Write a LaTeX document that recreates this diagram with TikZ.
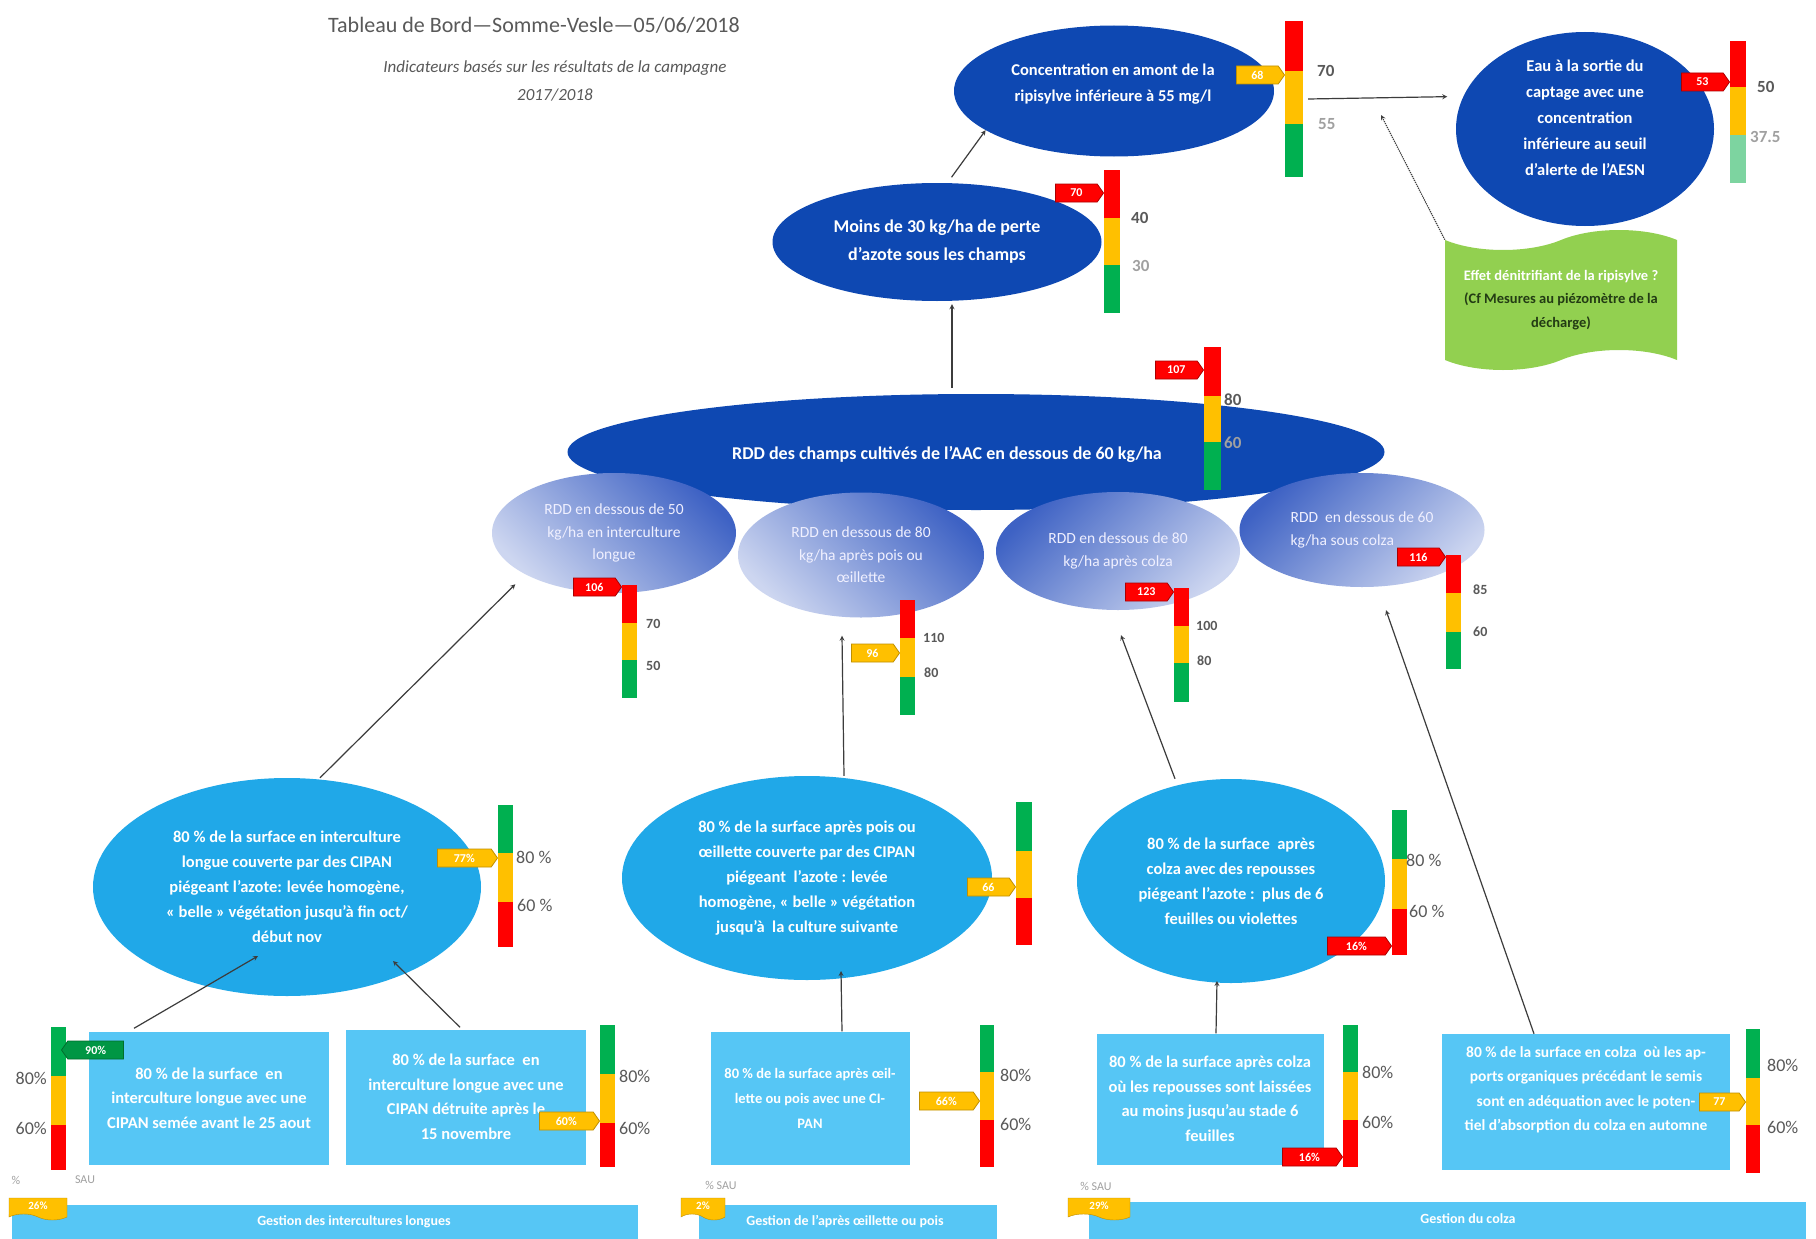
\documentclass[tikz,border=0pt]{standalone}
\usepackage{fontspec}
\setmainfont{Carlito}
\usetikzlibrary{shapes.geometric,shapes.symbols}

\definecolor{rouge}{RGB}{255,0,0}
\definecolor{rougefonce}{RGB}{170,0,0}
\definecolor{jaune}{RGB}{255,192,0}
\definecolor{jaunefonce}{RGB}{191,143,0}
\definecolor{vert}{RGB}{0,176,80}
\definecolor{vertfonce}{RGB}{0,110,45}
\definecolor{menthe}{RGB}{125,212,160}
\definecolor{bleufonce}{RGB}{14,72,178}
\definecolor{bleurdd}{RGB}{62,98,196}
\definecolor{lavande}{RGB}{205,214,240}
\definecolor{cyanfonce}{RGB}{32,168,232}
\definecolor{cyanclair}{RGB}{86,198,245}
\definecolor{vertruban}{RGB}{146,208,80}
\definecolor{textruban}{RGB}{35,60,20}
\definecolor{grisfl}{RGB}{60,60,60}
\definecolor{grist}{RGB}{89,89,89}
\definecolor{grisc}{RGB}{160,160,160}

% jauge : [largeur]{x}{haut}{seuil 1}{seuil 2}{bas}{couleur haut}{couleur bas}
\newcommand{\jauge}[8][15]{%
  \fill[#7] (#2,#3) rectangle (#2+#1,#4);
  \fill[jaune] (#2,#4) rectangle (#2+#1,#5);
  \fill[#8] (#2,#5) rectangle (#2+#1,#6);
}

\tikzset{
  objfonce/.style={ellipse, fill=bleufonce, inner sep=0pt, text=white, align=center,
    font=\bfseries\fontsize{16.5}{26}\selectfont},
  textefonce/.style={inner sep=0pt, text=white, align=center,
    font=\bfseries\fontsize{16.5}{26}\selectfont},
  objrdd/.style={ellipse, inner sep=0pt, text=white!94!blue, align=center,
    font=\fontsize{15.5}{22.5}\selectfont},
  objcipan/.style={ellipse, fill=cyanfonce, inner sep=0pt, text=white, align=center,
    font=\bfseries\fontsize{16.5}{25}\selectfont},
  action/.style={rectangle, fill=cyanclair, inner sep=0pt, text=white, align=center,
    font=\bfseries\fontsize{16.5}{24.5}\selectfont},
  gestion/.style={inner sep=0pt, text=white, font=\bfseries\fontsize{14}{16}\selectfont},
  ruban/.style={tape, tape bend top=in and out, tape bend bottom=in and out,
    tape bend height=20pt, fill=vertruban, inner sep=2pt, align=center, text=textruban,
    font=\bfseries\fontsize{14.5}{23.5}\selectfont},
  fleche/.style={->, >=stealth, draw=grisfl, line width=1.2pt},
  pointille/.style={->, >=stealth, draw=grisfl, line width=1.2pt, densely dotted},
  tagbase/.style={signal, signal to=east, signal pointer angle=110, minimum height=18,
    minimum width=48, inner xsep=4pt, inner ysep=1pt, text=white, line width=0.8pt,
    font=\bfseries\fontsize{12}{12}\selectfont},
  tagr/.style={tagbase, fill=rouge, draw=rougefonce},
  tagj/.style={tagbase, fill=jaune, draw=jaunefonce},
  tagv/.style={tagbase, signal to=west, fill=vert!85!black, draw=vertfonce},
  sau/.style={tape, tape bend top=none, tape bend bottom=out and in, tape bend height=6pt,
    fill=jaune, draw=jaunefonce, text=white, inner sep=1pt,
    font=\bfseries\fontsize{11}{11}\selectfont},
  seuilf/.style={anchor=west, inner sep=0pt, text=grist, font=\bfseries\fontsize{17}{17}\selectfont},
  seuilc/.style={anchor=west, inner sep=0pt, text=grisc, font=\bfseries\fontsize{17}{17}\selectfont},
  seuilp/.style={anchor=west, inner sep=0pt, text=grist, font=\bfseries\fontsize{14}{14}\selectfont},
  seuilb/.style={anchor=west, inner sep=0pt, text=grist, font=\fontsize{18}{18}\selectfont},
  petitgris/.style={inner sep=0pt, text=grisc, font=\fontsize{12}{12}\selectfont}
}

\begin{document}
\begin{tikzpicture}[x=1pt, y=-1pt]
\useasboundingbox (0,0) rectangle (1816,1239);
\fill[white] (0,0) rectangle (1816,1239);

% titre
\node[text=grist, font=\fontsize{22}{22}\selectfont] (titre) at (534,25) {Tableau de Bord—Somme-Vesle—05/06/2018};
\node[text=grist, align=center, font=\itshape\fontsize{17}{28}\selectfont] (soustitre) at (555,81)
  {Indicateurs basés sur les résultats de la campagne\\2017/2018};

% objectifs du haut
\node[objfonce, minimum width=320, minimum height=131] (conc) at (1114,91) {};
\node[textefonce] (conctexte) at (1113,84)
  {Concentration en amont de la\\ripisylve inférieure à 55 mg/l};
\node[objfonce, minimum width=258, minimum height=194] (eau) at (1585,129) {};
\node[textefonce] (eautexte) at (1585,118)
  {Eau à la sortie du\\captage avec une\\concentration\\inférieure au seuil\\d’alerte de l’AESN};
\node[objfonce, minimum width=329, minimum height=118, font=\bfseries\fontsize{18}{28}\selectfont] (moins) at (937,242)
  {Moins de 30 kg/ha de perte\\d’azote sous les champs};
\node[ruban, minimum width=232, minimum height=140] (denit) at (1561,300)
  {\textcolor{white}{Effet dénitrifiant de la ripisylve ?}\\(Cf Mesures au piézomètre de la\\décharge)};

% RDD
\node[objfonce, minimum width=817, minimum height=116] (rdd) at (976,452) {};
\node[text=white, inner sep=0pt, font=\bfseries\fontsize{18}{18}\selectfont] (rddtexte) at (947,454)
  {RDD des champs cultivés de l’AAC en dessous de 60 kg/ha};
\node[objrdd, minimum width=244, minimum height=120, left color=bleurdd, right color=lavande, shading angle=-45] (rddlong) at (614,533)
  {RDD en dessous de 50\\kg/ha en interculture\\longue};
\node[objrdd, minimum width=246, minimum height=125, left color=bleurdd, right color=lavande, shading angle=-45] (rddpois) at (861,555)
  {RDD en dessous de 80\\kg/ha après pois ou\\œillette};
\node[objrdd, minimum width=244, minimum height=118, left color=bleurdd, right color=lavande, shading angle=45] (rddapcolza) at (1118,551)
  {RDD en dessous de 80\\kg/ha après colza};
\node[objrdd, minimum width=245, minimum height=114, left color=bleurdd, right color=lavande, shading angle=45, align=left] (rddcolza) at (1362,530)
  {RDD\ \ en dessous de 60\\kg/ha sous colza};

% CIPAN et repousses
\node[objcipan, minimum width=388, minimum height=218] (cipanlong) at (287,887)
  {80 \% de la surface en interculture\\longue couverte par des CIPAN\\piégeant l’azote: levée homogène,\\« belle » végétation jusqu’à fin oct/\\début nov};
\node[objcipan, minimum width=370, minimum height=204] (cipanpois) at (807,878)
  {80 \% de la surface après pois ou\\œillette couverte par des CIPAN\\piégeant\ \ l’azote : levée\\homogène, « belle » végétation\\jusqu’à\ \ la culture suivante};
\node[objcipan, minimum width=308, minimum height=204] (repousses) at (1231,881)
  {80 \% de la surface\ \ après\\colza avec des repousses\\piégeant l’azote :\ \ plus de 6\\feuilles ou violettes};

% actions
\node[action, minimum width=240, minimum height=133] (semis) at (209,1098)
  {80 \% de la surface\ \ en\\interculture longue avec une\\CIPAN semée avant le 25 aout};
\node[action, minimum width=240, minimum height=135] (destruc) at (466,1097)
  {80 \% de la surface\ \ en\\interculture longue avec une\\CIPAN détruite après le\\15 novembre};
\node[action, minimum width=199, minimum height=133, font=\bfseries\fontsize{14.5}{25}\selectfont] (pois) at (810,1098)
  {80 \% de la surface après œil-\\lette ou pois avec une CI-\\PAN};
\node[action, minimum width=227, minimum height=131] (colzalaisse) at (1210,1099)
  {80 \% de la surface après colza\\où les repousses sont laissées\\au moins jusqu’au stade 6\\feuilles};
\node[action, minimum width=288, minimum height=136] (apports) at (1586,1102) {};
\node[action, font=\bfseries\fontsize{15.5}{24.5}\selectfont] (apportstexte) at (1586,1090)
  {80 \% de la surface en colza\ \ où les ap-\\ports organiques précédant le semis\\sont en adéquation avec le poten-\\tiel d’absorption du colza en automne};

% bandeaux
\fill[cyanclair] (12,1205) rectangle (638,1245);
\fill[cyanclair] (699,1205) rectangle (997,1245);
\fill[cyanclair] (1089,1202) rectangle (1806,1245);
\node[gestion] (gestlong) at (354,1222) {Gestion des intercultures longues};
\node[gestion] (gestpois) at (845,1221) {Gestion de l’après œillette ou pois};
\node[gestion] (gestcolza) at (1468,1219) {Gestion du colza};
\node[petitgris] (pc1) at (16,1180) {\%};
\node[petitgris] (sau1) at (85,1180) {SAU};
\node[petitgris] (sau2) at (721,1185) {\% SAU};
\node[petitgris] (sau3) at (1096,1186) {\% SAU};
\node[sau, minimum width=58, minimum height=22] (part1) at (38,1206) {26\%};
\node[sau, minimum width=44, minimum height=22] (part2) at (703,1206) {2\%};
\node[sau, minimum width=62, minimum height=22] (part3) at (1099,1206) {29\%};

% connecteurs
\draw[fleche] ([xshift=-24pt,yshift=6pt]rdd.north) -- ([xshift=15pt,yshift=-3pt]moins.south);
\draw[fleche, shorten <=7pt] (moins.80) -- (conc.197);
\draw[fleche, shorten >=16pt] ([xshift=34pt,yshift=-8pt]conc.east) -- (eau.165);
\coordinate (visee) at (1381,115);
\draw[pointille] (denit.north west) -- (visee);
\draw[fleche, shorten >=14pt] ([xshift=33pt]cipanlong.north) -- (rddlong.205);
\draw[fleche] ([xshift=37pt]cipanpois.north) -- ([xshift=-19pt,yshift=-18pt]rddpois.south);
\draw[fleche] ([xshift=-56pt]repousses.north) -- ([xshift=3pt,yshift=-25pt]rddapcolza.south);
\draw[fleche] ([xshift=-52pt]apports.north) -- ([xshift=24pt,yshift=-23pt]rddcolza.south);
\draw[fleche] ([xshift=-75pt,yshift=3pt]semis.north) -- ([xshift=-29pt,yshift=-69pt]cipanlong.center);
\draw[fleche] ([xshift=-6pt,yshift=2pt]destruc.north) -- ([xshift=106pt,yshift=-74pt]cipanlong.center);
\draw[fleche] ([xshift=32pt]pois.north) -- ([xshift=34pt,yshift=-93pt]cipanpois.center);
\draw[fleche] ([xshift=6pt]colzalaisse.north) -- ([xshift=-14pt,yshift=-100pt]repousses.center);

% jauges
\jauge[18]{1285}{21}{71}{124}{177}{rouge}{vert}
\jauge[16]{1730}{41}{87}{135}{183}{rouge}{menthe}
\jauge[16]{1104}{170}{218}{265}{313}{rouge}{vert}
\jauge[17]{1204}{347}{396}{442}{490}{rouge}{vert}
\jauge{622}{585}{623}{660}{698}{rouge}{vert}
\jauge{900}{600}{638}{677}{715}{rouge}{vert}
\jauge{1174}{588}{626}{663}{702}{rouge}{vert}
\jauge{1446}{555}{593}{632}{669}{rouge}{vert}
\jauge{498}{805}{853}{902}{947}{vert}{rouge}
\jauge[16]{1016}{802}{851}{898}{945}{vert}{rouge}
\jauge{1392}{810}{859}{909}{955}{vert}{rouge}
\jauge{51}{1027}{1076}{1125}{1170}{vert}{rouge}
\jauge{600}{1025}{1074}{1123}{1167}{vert}{rouge}
\jauge[14]{980}{1025}{1072}{1120}{1167}{vert}{rouge}
\jauge{1343}{1025}{1072}{1120}{1167}{vert}{rouge}
\jauge[14]{1746}{1029}{1078}{1125}{1173}{vert}{rouge}

% seuils
\node[seuilf] (s70) at (1317,71) {70};
\node[seuilc] (s55) at (1318,124) {55};
\node[seuilf] (s50) at (1757,87) {50};
\node[seuilc] (s375) at (1750,137) {37.5};
\node[seuilf] (s40) at (1131,218) {40};
\node[seuilc] (s30) at (1132,266) {30};
\node[seuilf] (s80r) at (1224,400) {80};
\node[seuilc] (s60r) at (1224,443) {60};
\node[seuilp] (s70l) at (646,624) {70};
\node[seuilp] (s50l) at (646,666) {50};
\node[seuilp] (s110) at (923,638) {110};
\node[seuilp] (s80p) at (924,673) {80};
\node[seuilp] (s100) at (1196,626) {100};
\node[seuilp] (s80c) at (1197,661) {80};
\node[seuilp] (s85) at (1473,590) {85};
\node[seuilp] (s60c) at (1473,632) {60};
\node[seuilb] (p80a) at (516,857) {80 \%};
\node[seuilb] (p60a) at (517,905) {60 \%};
\node[seuilb] (p80b) at (1406,860) {80 \%};
\node[seuilb] (p60b) at (1409,911) {60 \%};
\node[seuilb, anchor=east] (q80a) at (47,1078) {80\%};
\node[seuilb, anchor=east] (q60a) at (47,1128) {60\%};
\node[seuilb] (q80b) at (619,1076) {80\%};
\node[seuilb] (q60b) at (619,1128) {60\%};
\node[seuilb] (q80c) at (1000,1075) {80\%};
\node[seuilb] (q60c) at (1000,1124) {60\%};
\node[seuilb] (q80d) at (1362,1072) {80\%};
\node[seuilb] (q60d) at (1362,1122) {60\%};
\node[seuilb] (q80e) at (1767,1065) {80\%};
\node[seuilb] (q60e) at (1767,1127) {60\%};

% valeurs mesurees
\node[tagj, anchor=east] (vconc) at (1285,75) {68};
\node[tagr, anchor=east] (veau) at (1730,82) {53};
\node[tagr, anchor=east] (vmoins) at (1104,193) {70};
\node[tagr, anchor=east] (vrdd) at (1204,370) {107};
\node[tagr, anchor=east] (vlong) at (622,587) {106};
\node[tagj, anchor=east] (vpois) at (900,653) {96};
\node[tagr, anchor=east] (vapcolza) at (1174,592) {123};
\node[tagr, anchor=east] (vcolza) at (1446,557) {116};
\node[tagj, anchor=east, minimum width=60] (vcipanlong) at (498,858) {77\%};
\node[tagj, anchor=east] (vcipanpois) at (1016,887) {66};
\node[tagr, anchor=east, minimum width=64] (vrepousses) at (1392,946) {16\%};
\node[tagv, anchor=west, minimum width=62] (vsemis) at (61,1050) {90\%};
\node[tagj, anchor=east, minimum width=60] (vdestruc) at (600,1121) {60\%};
\node[tagj, anchor=east, minimum width=60] (vpoisb) at (980,1101) {66\%};
\node[tagr, anchor=east, minimum width=60] (vcolzalaisse) at (1343,1157) {16\%};
\node[tagj, anchor=east, minimum width=46] (vapports) at (1746,1102) {77};
\end{tikzpicture}
\end{document}
